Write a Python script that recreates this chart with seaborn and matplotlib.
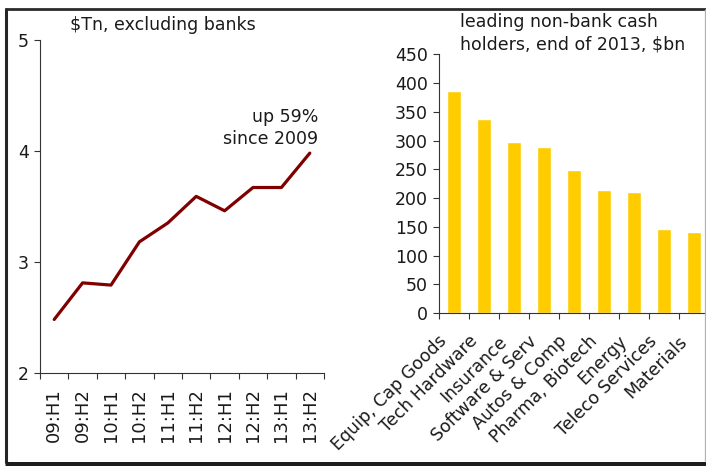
import matplotlib
matplotlib.use("Agg")
import matplotlib.pyplot as plt
import matplotlib.transforms as mtransforms
import seaborn as sns
import pandas as pd
from matplotlib.lines import Line2D

# Corporate cash holdings, $Tn, excluding banks (half-yearly)
periods = ["09:H1", "09:H2", "10:H1", "10:H2", "11:H1",
           "11:H2", "12:H1", "12:H2", "13:H1", "13:H2"]
cash_tn = [2.48, 2.81, 2.79, 3.18, 3.35, 3.59, 3.46, 3.67, 3.67, 3.98]

# Leading non-bank cash holders, end of 2013, $bn
sectors = ["Equip, Cap Goods", "Tech Hardware", "Insurance", "Software & Serv",
           "Autos & Comp", "Pharma, Biotech", "Energy", "Teleco Services", "Materials"]
cash_bn = [386, 337, 297, 288, 248, 214, 210, 146, 141]

line_df = pd.DataFrame({"period": periods, "cash": cash_tn})
bar_df = pd.DataFrame({"sector": sectors, "cash": cash_bn})

sns.set_theme(style="ticks")
plt.rcParams["font.family"] = ["DejaVu Sans"]
FS = 12.5
TXT = "#1a1a1a"
AXC = "#333333"

W, H = 706, 466
fig = plt.figure(figsize=(W / 100, H / 100), dpi=100)


def style_axes(ax, n):
    ax.set_xlim(-0.5, n - 0.5)
    ax.set_xlabel("")
    ax.set_ylabel("")
    ax.tick_params(axis="y", labelsize=FS, labelcolor=TXT, length=4, width=0.8,
                   color=AXC, pad=4)
    # category ticks sit on the boundaries between categories
    ax.set_xticks([i - 0.5 for i in range(n + 1)], minor=True)
    ax.tick_params(axis="x", which="minor", length=4, width=0.8, color=AXC)
    for s in ["top", "right"]:
        ax.spines[s].set_visible(False)
    for s in ["left", "bottom"]:
        ax.spines[s].set_color(AXC)
        ax.spines[s].set_linewidth(0.8)


# ---- left panel: line chart ----
ax1 = fig.add_axes([40 / W, 1 - 372.7 / H, 284 / W, 332.7 / H])
sns.lineplot(data=line_df, x="period", y="cash", ax=ax1, color="#800000",
             linewidth=2.3, sort=False)
style_axes(ax1, len(periods))
ax1.set_ylim(2, 5)
ax1.set_yticks([2, 3, 4, 5])
ax1.set_xticks(range(len(periods)))
ax1.set_xticklabels(periods, rotation=90, fontsize=13, color=TXT)
ax1.tick_params(axis="x", length=0, pad=11)
fig.text(70 / W, 1 - 25 / H, "$Tn, excluding banks", fontsize=FS, color=TXT,
         ha="left", va="center")
fig.text(318 / W, 1 - 128 / H, "up 59%\nsince 2009", fontsize=FS, color=TXT,
         ha="right", va="center", linespacing=1.3)

# ---- right panel: bar chart ----
ax2 = fig.add_axes([439 / W, 1 - 313 / H, 270 / W, 258.7 / H])
sns.barplot(data=bar_df, x="sector", y="cash", ax=ax2, color="#FFCC00",
            saturation=1, width=0.45)
style_axes(ax2, len(sectors))
ax2.set_ylim(0, 450)
ax2.set_yticks(range(0, 451, 50))
ax2.set_xticks(range(len(sectors)))
ax2.set_xticklabels(sectors, rotation=45, ha="right", rotation_mode="anchor",
                    fontsize=FS, color=TXT)
ax2.tick_params(axis="x", length=0, pad=8)
shift = mtransforms.ScaledTranslation(-16 / 100, -8 / 100, fig.dpi_scale_trans)
for lbl in ax2.get_xticklabels():
    lbl.set_transform(lbl.get_transform() + shift)
fig.text(460 / W, 1 - 33 / H, "leading non-bank cash\nholders, end of 2013, $bn",
         fontsize=FS, color=TXT, ha="left", va="center", linespacing=1.3)

# ---- outer frame ----
def frame_line(x0, y0, x1, y1, color, lw):
    fig.lines.append(Line2D([x0 / W, x1 / W], [1 - y0 / H, 1 - y1 / H],
                            transform=fig.transFigure, color=color,
                            linewidth=lw, solid_capstyle="butt"))


frame_line(5.5, 7.5, 5.5, 463, "#262626", 2.2)      # left
frame_line(4.5, 9, 706, 9, "#2a2a2a", 2.0)          # top
frame_line(705, 9, 705, 461, "#b0b0b0", 0.9)        # right
frame_line(4.5, 463.5, 706, 463.5, "#1e1e1e", 3.6)  # bottom

fig.savefig("out.png", dpi=100)
